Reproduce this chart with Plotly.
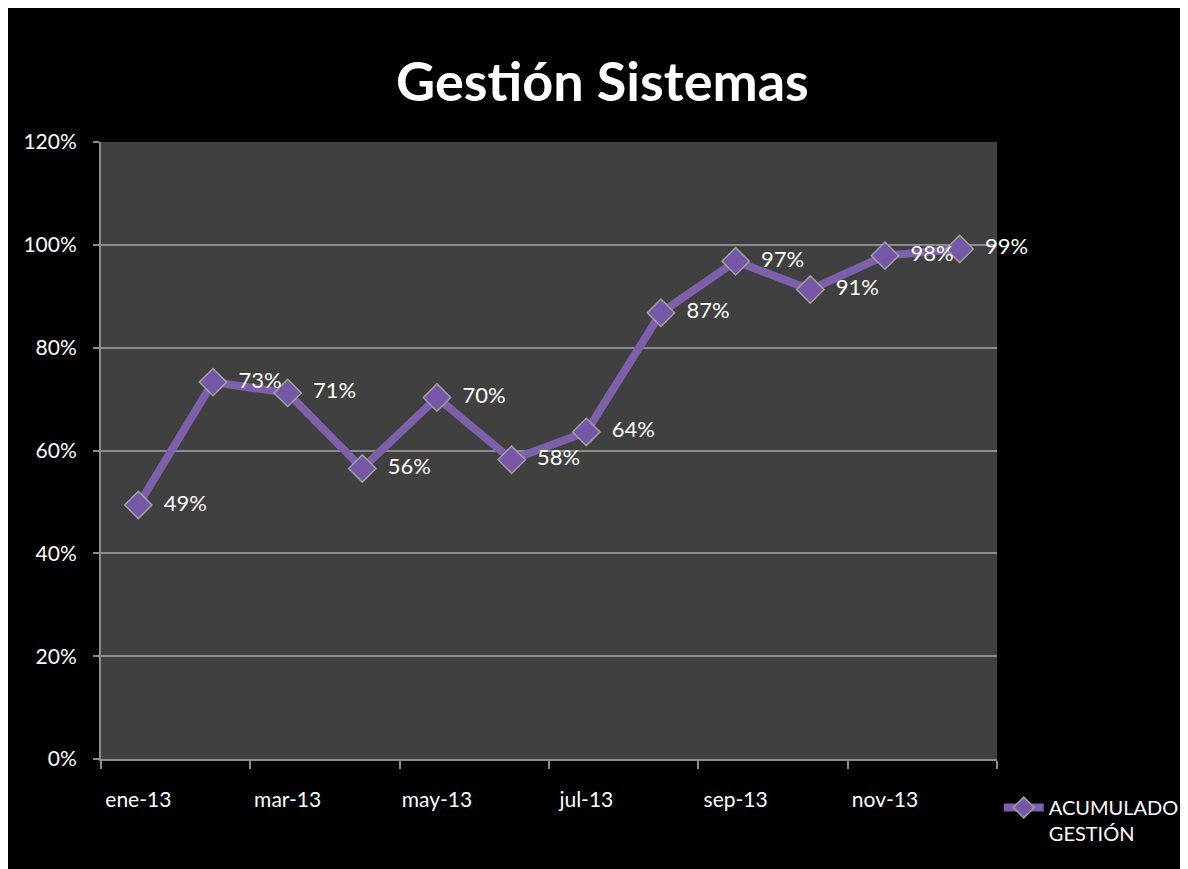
import plotly.graph_objects as go

months = ["ene-13", "feb-13", "mar-13", "abr-13", "may-13", "jun-13",
          "jul-13", "ago-13", "sep-13", "oct-13", "nov-13", "dic-13"]
acumulado = [0.494, 0.733, 0.712, 0.565, 0.703, 0.582,
             0.636, 0.868, 0.968, 0.913, 0.979, 0.992]
series_name = "ACUMULADO<br>GESTIÓN"
title_text = "Gestión Sistemas"

FONT = "Lato"
PURPLE = "#7d60a9"
GRID = "#8c8c8c"

fig = go.Figure()
fig.add_trace(go.Scatter(
    x=months, y=acumulado, name=series_name,
    mode="lines+markers+text",
    line=dict(color=PURPLE, width=8),
    marker=dict(symbol="diamond", size=21, color="#7656a6",
                line=dict(color="#a0a0a0", width=1.5)),
    texttemplate="\u00a0\u00a0%{y:.0%}",
    textposition="middle right",
    textfont=dict(color="white", size=22, family=FONT),
    cliponaxis=False,
))

fig.update_layout(
    width=1188, height=869,
    paper_bgcolor="black", plot_bgcolor="#404040",
    margin=dict(l=93, r=199, t=134, b=118),
    font=dict(family=FONT, color="white", size=21),
    showlegend=True,
    legend=dict(x=1.002, xanchor="left", y=-0.047, yanchor="top",
                valign="top", font=dict(size=20, color="white", family=FONT),
                bgcolor="rgba(0,0,0,0)", itemwidth=40),
    annotations=[dict(text="<b>" + title_text + "</b>", xref="paper", yref="paper",
                      x=0.56, y=1.099, xanchor="center", yanchor="middle",
                      showarrow=False, font=dict(size=54, color="white", family=FONT))],
)

fig.update_xaxes(
    type="category", range=[-0.5, 11.5], dtick=2, tickson="boundaries",
    tickangle=0,
    ticks="outside", ticklen=8, tickwidth=2, tickcolor=GRID,
    showline=True, linecolor=GRID, linewidth=2, showgrid=False,
    ticklabelstandoff=21, tickfont=dict(size=21, color="white", family=FONT),
)
fig.update_yaxes(
    range=[0, 1.2], dtick=0.2, tickformat=".0%",
    ticks="outside", ticklen=6, tickwidth=2, tickcolor=GRID,
    showline=True, linecolor=GRID, linewidth=2,
    showgrid=True, gridcolor=GRID, gridwidth=2, zeroline=False,
    ticklabelstandoff=12, tickfont=dict(size=21, color="white", family=FONT),
)

fig.write_html("out.html")
